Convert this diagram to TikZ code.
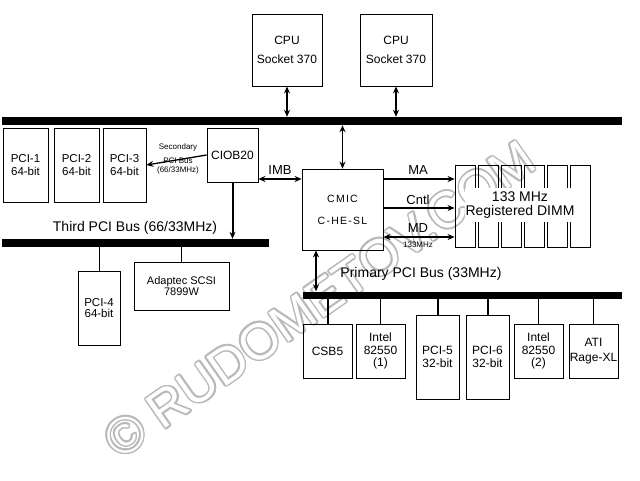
\documentclass[tikz,border=0pt]{standalone}
\usepackage{fontspec}
\setmainfont{Liberation Sans}
\usepackage[copies]{contour}
\usepackage{tikz}
\usetikzlibrary{arrows.meta}

\begin{document}
\begin{tikzpicture}[x=1pt, y=-1pt,
        box/.style={draw, line width=.8pt, align=center, inner sep=0pt, font=\fontsize{12}{12.5}\selectfont},
        slot/.style={draw, line width=.8pt, inner sep=0pt, minimum width=20pt, minimum height=82pt},
        bus/.style={fill=black, inner sep=0pt},
        wire/.style={line width=.8pt},
        thickwire/.style={line width=2pt},
        tip/.style={line width=1.3pt, -{Stealth[length=7pt, width=6pt]}},
        twotips/.style={line width=1.3pt, {Stealth[length=7pt, width=6pt]}-{Stealth[length=7pt, width=6pt]}},
        tag/.style={inner sep=0pt, font=\fontsize{13}{13}\selectfont},
        bustag/.style={inner sep=0pt, font=\fontsize{14}{14}\selectfont},
        tiny/.style={inner sep=0pt, align=center, font=\fontsize{8}{9}\selectfont}]

            \useasboundingbox (0, 0) rectangle (640, 480);

            % outlined watermark, kept behind the diagram
            \node[rotate=35, text=white, font=\fontsize{51}{51}\selectfont] (mark) at (320, 300) {\contour{gray!55}{© RUDOMETOV.COM}};

            \node[box, minimum width=70pt, minimum height=72pt] (cpua) at (287, 50) {CPU\\[7pt]Socket 370};
            \node[box, minimum width=72pt, minimum height=72pt] (cpub) at (396, 50) {CPU\\[7pt]Socket 370};

            \node[bus, minimum width=620pt, minimum height=8pt] (topbus) at (312, 121) {};
            \node[bus, minimum width=267pt, minimum height=8pt] (thirdbus) at (135.5, 243) {};
            \node[bus, minimum width=319pt, minimum height=7pt] (primbus) at (462.5, 295) {};

            \node[bustag] (thirdtag) at (135, 228) {Third PCI Bus (66/33MHz)};
            \node[bustag] (primtag) at (421, 274) {Primary PCI Bus (33MHz)};

            \node[box, minimum width=45pt, minimum height=74pt, font=\fontsize{11.5}{13}\selectfont] (pci1) at (25.5, 165) {PCI-1\\64-bit};
            \node[box, minimum width=45pt, minimum height=74pt, font=\fontsize{11.5}{13}\selectfont] (pci2) at (76.5, 165) {PCI-2\\64-bit};
            \node[box, minimum width=43pt, minimum height=74pt, font=\fontsize{11.5}{13}\selectfont] (pci3) at (124.5, 165) {PCI-3\\64-bit};
            \node[box, minimum width=51pt, minimum height=54pt] (ciob) at (232.5, 155) {CIOB20};

            \node[box, minimum width=81pt, minimum height=81pt, font=\fontsize{10.5}{22}\selectfont\addfontfeature{LetterSpace=12}] (cmic) at (342.5, 209.5) {CMIC\\C-HE-SL};

            \node[box, minimum width=42pt, minimum height=74pt, font=\fontsize{11.5}{11}\selectfont] (pci4) at (99, 308) {PCI-4\\64-bit};
            \node[box, minimum width=95pt, minimum height=48pt, font=\fontsize{11}{11}\selectfont] (scsi) at (181.5, 286) {Adaptec SCSI\\7899W};

            \node[box, minimum width=49pt, minimum height=54pt] (csb5) at (327.5, 351) {CSB5};
            \node[box, minimum width=49pt, minimum height=54pt] (intela) at (380.5, 351) {Intel\\82550\\(1)};
            \node[box, minimum width=43pt, minimum height=84pt] (pci5) at (437.5, 357) {PCI-5\\32-bit};
            \node[box, minimum width=43pt, minimum height=84pt] (pci6) at (487.5, 357) {PCI-6\\32-bit};
            \node[box, minimum width=49pt, minimum height=54pt] (intelb) at (538.5, 351) {Intel\\82550\\(2)};
            \node[box, minimum width=49pt, minimum height=54pt, font=\fontsize{12}{15}\selectfont] (ati) at (593.5, 351) {ATI\\Rage-XL};

            \node[slot] (s1) at (465, 206) {};
            \node[slot] (s2) at (488, 206) {};
            \node[slot] (s3) at (511, 206) {};
            \node[slot] (s4) at (534, 206) {};
            \node[slot] (s5) at (557, 206) {};
            \node[slot] (s6) at (580, 206) {};
            \node[fill=white, inner xsep=1pt, inner ysep=4pt, align=center, font=\fontsize{14}{14}\selectfont] (dimm) at (520, 205) {133 MHz\\Registered DIMM};

            \draw[twotips] (cpua.south) -- (cpua.south |- topbus.north);
            \draw[twotips] (cpub.south) -- (cpub.south |- topbus.north);
            \draw[twotips] (cmic.north) -- (cmic.north |- topbus.south);

            \draw[tip] (ciob.west) -- (pci3.east);
            \node[tiny] (sectag) at (178, 147) {Secondary};
            \node[tiny] (secbus) at (178, 166) {PCI Bus\\(66/33MHz)};
            \draw[tip, line width=2pt] (ciob.south) -- (ciob.south |- thirdbus.north);

            \coordinate (imb) at (280, 179);
            \node[tag] (imbtag) at (280, 170) {IMB};
            \draw[twotips] (ciob.east |- imb) -- (cmic.west |- imb);

            \coordinate (ma) at (418, 179);
            \coordinate (cntl) at (418, 208);
            \coordinate (md) at (418, 237);
            \node[tag] (matag) at (418, 170) {MA};
            \node[tag] (cntltag) at (418, 200) {Cntl};
            \node[tag] (mdtag) at (418, 228) {MD};
            \node[tiny] (mdclock) at (418, 245) {133MHz};
            \draw[tip] (cmic.east |- ma) -- (s1.west |- ma);
            \draw[tip] (cmic.east |- cntl) -- (s1.west |- cntl);
            \draw[twotips] (cmic.east |- md) -- (s1.west |- md);

            \coordinate (down) at (316, 270);
            \draw[twotips] (cmic.south -| down) -- (primbus.north -| down);

            \draw[wire] (pci4.north) -- (pci4.north |- thirdbus.south);
            \draw[wire] (scsi.north) -- (scsi.north |- thirdbus.south);

            \draw[thickwire] (csb5.north) -- (csb5.north |- primbus.south);
            \draw[wire] (intela.north) -- (intela.north |- primbus.south);
            \draw[thickwire] (pci5.north) -- (pci5.north |- primbus.south);
            \draw[thickwire] (pci6.north) -- (pci6.north |- primbus.south);
            \draw[wire] (intelb.north) -- (intelb.north |- primbus.south);
            \draw[wire] (ati.north) -- (ati.north |- primbus.south);
        \end{tikzpicture}
\end{document}
